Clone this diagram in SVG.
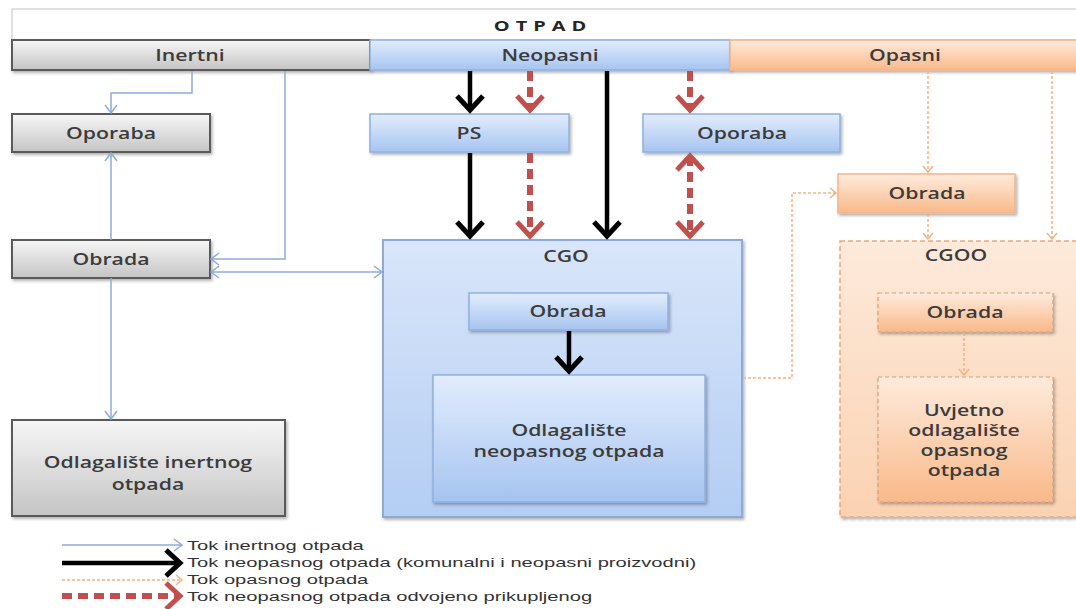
<svg xmlns="http://www.w3.org/2000/svg" width="1076" height="609" viewBox="0 0 1076 609">
<defs>
  <linearGradient id="gGray" x1="0" y1="0" x2="0" y2="1"><stop offset="0" stop-color="#f7f7f7"/><stop offset="1" stop-color="#c4c4c4"/></linearGradient>
  <linearGradient id="gBlue" x1="0" y1="0" x2="0" y2="1"><stop offset="0" stop-color="#e2edfd"/><stop offset="1" stop-color="#a6c4f0"/></linearGradient>
  <linearGradient id="gBlueBig" x1="0" y1="0" x2="0" y2="1"><stop offset="0" stop-color="#d9e6fa"/><stop offset="1" stop-color="#b4cdf3"/></linearGradient>
  <linearGradient id="gOrange" x1="0" y1="0" x2="0" y2="1"><stop offset="0" stop-color="#feebdc"/><stop offset="1" stop-color="#f9b98a"/></linearGradient>
  <linearGradient id="gOrangeBig" x1="0" y1="0" x2="0" y2="1"><stop offset="0" stop-color="#fdeadb"/><stop offset="1" stop-color="#fbd2b2"/></linearGradient>
  <filter id="sh" x="-10%" y="-10%" width="130%" height="140%">
    <feDropShadow dx="1.5" dy="2" stdDeviation="1.5" flood-color="#000" flood-opacity="0.3"/>
  </filter>
  <marker id="mBlue" markerUnits="userSpaceOnUse" markerWidth="12" markerHeight="14" refX="9" refY="7" orient="auto-start-reverse" overflow="visible">
    <path d="M1,1 L9,7 L1,13" fill="none" stroke="#8eaad8" stroke-width="1.5"/>
  </marker>
  <marker id="mBlack" markerUnits="userSpaceOnUse" markerWidth="20" markerHeight="30" refX="15" refY="15" orient="auto-start-reverse" overflow="visible">
    <path d="M1,2 L15,15 L1,28" fill="none" stroke="#000" stroke-width="5"/>
  </marker>
  <marker id="mRed" markerUnits="userSpaceOnUse" markerWidth="20" markerHeight="30" refX="15" refY="15" orient="auto-start-reverse" overflow="visible">
    <path d="M1,2 L15,15 L1,28" fill="none" stroke="#c0504d" stroke-width="5"/>
  </marker>
  <marker id="mOrange" markerUnits="userSpaceOnUse" markerWidth="10" markerHeight="14" refX="7" refY="6" orient="auto-start-reverse" overflow="visible">
    <path d="M1,1 L7,6 L1,11" fill="none" stroke="#f4b183" stroke-width="1.5"/>
  </marker>
</defs>
<style>
  .t { font-family: "Open Sans", "Liberation Sans", sans-serif; font-weight: 600; font-size: 16px; fill: #3c3c3c; text-anchor: middle; }
  .leg { font-family: "Liberation Sans", Arial, sans-serif; font-weight: 400; font-size: 13px; fill: #333; }
  .hdr { font-family: "Open Sans", "Liberation Sans", sans-serif; font-weight: 700; font-size: 15px; fill: #262626; text-anchor: middle; letter-spacing: 4.5px; }
  .gray { fill: url(#gGray); stroke: #5a5a5a; stroke-width: 2; filter: url(#sh); }
  .blue { fill: url(#gBlue); stroke: #8fb0e0; stroke-width: 1.5; filter: url(#sh); }
  .blueBig { fill: url(#gBlueBig); stroke: #8eaad8; stroke-width: 2; filter: url(#sh); }
  .orange { fill: url(#gOrange); stroke: #f2b48a; stroke-width: 1.5; filter: url(#sh); }
  .orangeBig { fill: url(#gOrangeBig); stroke: #e9aa80; stroke-width: 1.5; stroke-dasharray: 5 3; filter: url(#sh); }
  .orangeD { fill: url(#gOrange); stroke: #d3a07e; stroke-width: 1.2; stroke-dasharray: 4 3; filter: url(#sh); }
  .cBlue { fill: none; stroke: #8eaad8; stroke-width: 1.5; }
  .cBlack { fill: none; stroke: #000; stroke-width: 4.5; }
  .cRed { fill: none; stroke: #c0504d; stroke-width: 6; stroke-dasharray: 10 6; }
  .cOrange { fill: none; stroke: #f4b183; stroke-width: 1.5; stroke-dasharray: 3 2; }
</style>

<rect x="0" y="0" width="1076" height="609" fill="#ffffff"/>

<g id="header">
  <rect x="12" y="9" width="1070" height="31" fill="#ffffff" stroke="#d6d6d6" stroke-width="1.5"/>
  <text class="hdr" transform="translate(543,30.5) scale(1.33,1)">OTPAD</text>
</g>
<g id="cat-inertni">
  <rect class="gray" x="12" y="40" width="358" height="30"/>
  <text class="t" transform="translate(190,60.5) scale(1.33,1)">Inertni</text>
</g>
<g id="cat-neopasni">
  <rect class="blue" x="370" y="40" width="360" height="30"/>
  <text class="t" transform="translate(550,60.5) scale(1.33,1)">Neopasni</text>
</g>
<g id="cat-opasni">
  <rect class="orange" x="730" y="40" width="352" height="30"/>
  <text class="t" transform="translate(905,60.5) scale(1.33,1)">Opasni</text>
</g>

<g id="inert-oporaba">
  <rect class="gray" x="12" y="114" width="198" height="38"/>
  <text class="t" transform="translate(111,138.5) scale(1.33,1)">Oporaba</text>
</g>
<g id="inert-obrada">
  <rect class="gray" x="12" y="240" width="198" height="38"/>
  <text class="t" transform="translate(111,264.5) scale(1.33,1)">Obrada</text>
</g>
<g id="inert-odlagaliste">
  <rect class="gray" x="12" y="420" width="273" height="96"/>
  <text class="t" transform="translate(148,468) scale(1.33,1)">Odlagalište inertnog</text>
  <text class="t" transform="translate(148,490) scale(1.33,1)">otpada</text>
</g>

<g id="ps">
  <rect class="blue" x="370" y="114" width="199" height="38"/>
  <text class="t" transform="translate(469,138.5) scale(1.33,1)">PS</text>
</g>
<g id="neo-oporaba">
  <rect class="blue" x="643" y="114" width="197" height="38"/>
  <text class="t" transform="translate(742,138.5) scale(1.33,1)">Oporaba</text>
</g>
<g id="cgo">
  <rect class="blueBig" x="383" y="240" width="359" height="277"/>
  <text class="t" transform="translate(566,262) scale(1.33,1)">CGO</text>
</g>
<g id="cgo-obrada">
  <rect class="blue" x="469" y="293" width="199" height="37"/>
  <text class="t" transform="translate(568,317) scale(1.33,1)">Obrada</text>
</g>
<g id="cgo-odlagaliste">
  <rect class="blue" x="433" y="375" width="272" height="127"/>
  <text class="t" transform="translate(569,436) scale(1.33,1)">Odlagalište</text>
  <text class="t" transform="translate(569,457) scale(1.33,1)">neopasnog otpada</text>
</g>

<g id="op-obrada">
  <rect class="orange" x="838" y="174" width="177" height="39"/>
  <text class="t" transform="translate(927,199) scale(1.33,1)">Obrada</text>
</g>
<g id="cgoo">
  <rect class="orangeBig" x="840" y="241" width="245" height="276"/>
  <text class="t" transform="translate(956,261) scale(1.33,1)">CGOO</text>
</g>
<g id="cgoo-obrada">
  <rect class="orangeD" x="878" y="293" width="175" height="39"/>
  <text class="t" transform="translate(965,318) scale(1.33,1)">Obrada</text>
</g>
<g id="cgoo-uvjetno">
  <rect class="orangeD" x="878" y="377" width="175" height="125"/>
  <text class="t" transform="translate(964,416) scale(1.33,1)">Uvjetno</text>
  <text class="t" transform="translate(964,436) scale(1.33,1)">odlagalište</text>
  <text class="t" transform="translate(964,456) scale(1.33,1)">opasnog</text>
  <text class="t" transform="translate(964,476) scale(1.33,1)">otpada</text>
</g>

<g id="connectors">
  <path class="cBlue" d="M192,71 V93 H111 V113" marker-end="url(#mBlue)"/>
  <path class="cBlue" d="M285,71 V259 H211" marker-end="url(#mBlue)"/>
  <path class="cBlue" d="M211,272 H382" marker-start="url(#mBlue)" marker-end="url(#mBlue)"/>
  <path class="cBlue" d="M111,240 V153" marker-end="url(#mBlue)"/>
  <path class="cBlue" d="M111,278 V419" marker-end="url(#mBlue)"/>

  <path class="cBlack" d="M470,71 V110" marker-end="url(#mBlack)"/>
  <path class="cBlack" d="M470,153 V236" marker-end="url(#mBlack)"/>
  <path class="cBlack" d="M607,71 V236" marker-end="url(#mBlack)"/>
  <path class="cBlack" d="M569,331 V371" marker-end="url(#mBlack)"/>

  <path class="cRed" d="M530,71 V110" marker-end="url(#mRed)"/>
  <path class="cRed" d="M530,153 V236" marker-end="url(#mRed)"/>
  <path class="cRed" d="M690,71 V110" marker-end="url(#mRed)"/>
  <path class="cRed" d="M690,156 V236" marker-start="url(#mRed)" marker-end="url(#mRed)"/>

  <path class="cOrange" d="M743,378 H792 V193 H836" marker-end="url(#mOrange)"/>
  <path class="cOrange" d="M928,71 V172" marker-end="url(#mOrange)"/>
  <path class="cOrange" d="M928,214 V239" marker-end="url(#mOrange)"/>
  <path class="cOrange" d="M1052,71 V239" marker-end="url(#mOrange)"/>
  <path class="cOrange" d="M964,333 V375" marker-end="url(#mOrange)"/>
</g>

<g id="legend">
  <path class="cBlue" d="M62,545 H182" marker-end="url(#mBlue)"/>
  <text class="leg" transform="translate(187,550) scale(1.55,1)">Tok inertnog otpada</text>
  <path class="cBlack" d="M62,563 H180" marker-end="url(#mBlack)"/>
  <text class="leg" transform="translate(187,567) scale(1.55,1)">Tok neopasnog otpada (komunalni i neopasni proizvodni)</text>
  <path class="cOrange" d="M62,580 H182" marker-end="url(#mOrange)"/>
  <text class="leg" transform="translate(187,584) scale(1.55,1)">Tok opasnog otpada</text>
  <path class="cRed" d="M62,596 H180" marker-end="url(#mRed)"/>
  <text class="leg" transform="translate(187,601) scale(1.55,1)">Tok neopasnog otpada odvojeno prikupljenog</text>
</g>
</svg>
